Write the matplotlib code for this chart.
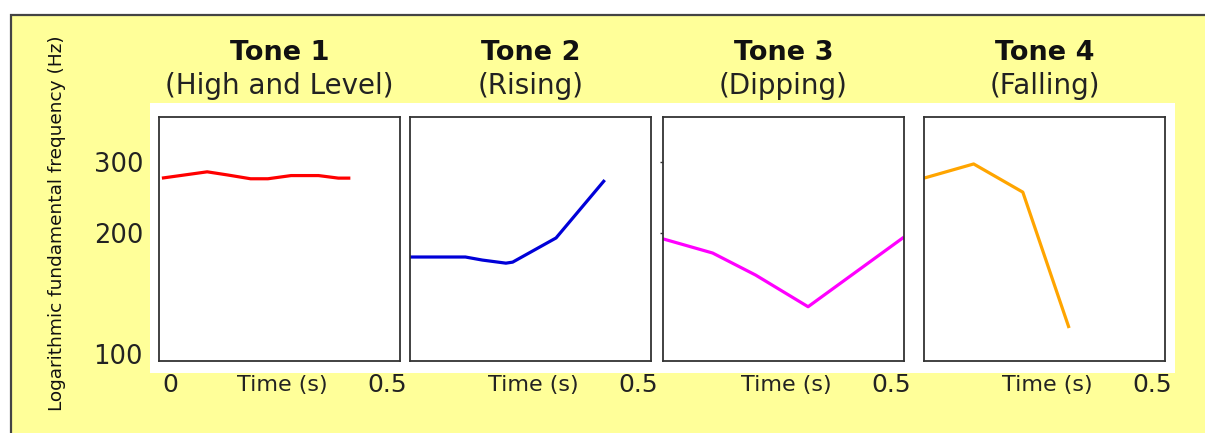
import numpy as np
import matplotlib
matplotlib.use("Agg")
from matplotlib import pyplot as plt
from matplotlib.patches import Rectangle

plt.rcParams['font.family'] = ['DejaVu Sans']

# Datos (tiempo en s, frecuencia en Hz)
tone1_t = [0.006, 0.100, 0.142, 0.190, 0.226, 0.274, 0.331, 0.372, 0.397]
tone1_f = [273, 283, 278, 272, 272, 277, 277, 273, 273]

tone2_t = [0.0, 0.115, 0.150, 0.199, 0.213, 0.303, 0.404]
tone2_f = [174, 174, 171, 168, 169, 194, 270]

tone3_t = [0.0, 0.103, 0.192, 0.301, 0.500]
tone3_f = [193, 178, 157, 131, 195]

tone4_t = [0.0, 0.103, 0.205, 0.301]
tone4_f = [273, 296, 252, 116]

titles = ["Tone 1", "Tone 2", "Tone 3", "Tone 4"]
subtitles = ["(High and Level)", "(Rising)", "(Dipping)", "(Falling)"]
colors = ["#ff0000", "#0000d8", "#ff00ff", "#ffa500"]
y_ticks = [100, 200, 300]

series = [(tone1_t, tone1_f), (tone2_t, tone2_f), (tone3_t, tone3_f), (tone4_t, tone4_f)]

W, H = 1205, 433
fig = plt.figure(figsize=(W / 100, H / 100), dpi=100)
fig.patch.set_facecolor("white")

# fondo amarillo con borde arriba e izquierda
fig.patches.append(Rectangle((11 / W, -0.1), 1.2, 1 - 15 / H + 0.1,
                             transform=fig.transFigure, facecolor="#ffff99",
                             edgecolor="#444444", linewidth=1.6, zorder=-2))
# rectangulo blanco detras de las graficas
fig.patches.append(Rectangle((150 / W, 1 - 373 / H), (1175 - 150) / W, (373 - 103) / H,
                             transform=fig.transFigure, facecolor="white",
                             edgecolor="none", zorder=-1))

lefts = [159, 410, 663, 924]
ax_w = 241
ax_top, ax_bot = 117, 361

for i, (t, f) in enumerate(series):
    ax = fig.add_axes([lefts[i] / W, 1 - ax_bot / H, ax_w / W, (ax_bot - ax_top) / H])
    ax.set_facecolor("white")
    ax.plot(t, f, color=colors[i], linewidth=2.3, solid_capstyle="butt")
    ax.set_yscale("log")
    ax.set_ylim(96.1, 387)
    ax.set_xlim(0, 0.5)
    ax.set_xticks([])
    ax.yaxis.set_minor_locator(matplotlib.ticker.NullLocator())
    for s in ax.spines.values():
        s.set_color("#333333")
        s.set_linewidth(1.3)
    if i == 0:
        ax.set_yticks(y_ticks)
        ax.set_yticklabels([str(v) for v in y_ticks])
        ax.tick_params(axis="y", length=0, pad=11.5, labelsize=18.5, labelcolor="#222222")
    elif i == 2:
        ax.set_yticks([200, 300])
        ax.set_yticklabels([])
        ax.tick_params(axis="y", length=2.5, width=1, color="#333333")
    else:
        ax.set_yticks([])

    # etiquetas del eje x
    if i == 0:
        ax.text(0.046, -0.098, "0", transform=ax.transAxes, ha="center", va="center",
                fontsize=18, color="#222222")
    ax.text(0.51, -0.098, "Time (s)", transform=ax.transAxes, ha="center", va="center",
            fontsize=16, color="#222222")
    ax.text(0.945, -0.098, "0.5", transform=ax.transAxes, ha="center", va="center",
            fontsize=18, color="#222222")

    cx = (lefts[i] + ax_w / 2) / W
    fig.text(cx, 1 - 53 / H, titles[i], ha="center", va="center",
             fontsize=19.5, fontweight="bold", color="#111111")
    fig.text(cx, 1 - 86 / H, subtitles[i], ha="center", va="center",
             fontsize=20, color="#222222")

fig.text(57 / W, 1 - 223 / H, "Logarithmic fundamental frequency (Hz)", rotation=90,
         ha="center", va="center", fontsize=13.3, color="#111111")

fig.savefig("out.png", dpi=100, facecolor=fig.get_facecolor())
